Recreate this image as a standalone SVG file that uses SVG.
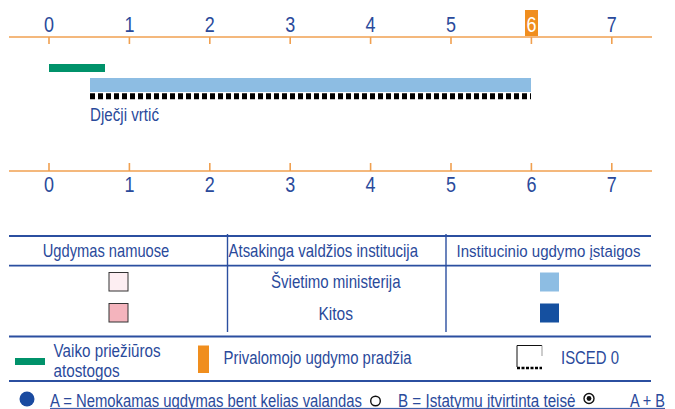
<svg xmlns="http://www.w3.org/2000/svg" width="675" height="409" viewBox="0 0 675 409">
<style>
  text { font-family: "Liberation Sans Narrow", "Liberation Sans", Arial, sans-serif; fill: #2A4A9B; }
  .dig { font-size: 22.5px; text-anchor: middle; }
  .lbl { font-size: 18.5px; }
  .sm { font-size: 17.5px; }
  .ax { stroke: #F0A050; stroke-width: 1.6; fill: none; }
  .tl { stroke: #2B4FA0; stroke-width: 1.8; fill: none; }
  .dv { stroke: #2B4FA0; stroke-width: 1.4; fill: none; }
</style>
<rect width="675" height="409" fill="#FFFFFF"/>

<g id="axis-top">
  <line class="ax" x1="9" y1="37" x2="652" y2="37"/>
  <path class="ax" d="M49 37V44M129.4 37V44M209.8 37V44M290.2 37V44M370.6 37V44M451 37V44M531.4 37V44M611.8 37V44"/>
  <rect x="525" y="10" width="13" height="26" fill="#F08E1E"/>
  <text class="dig" x="49" y="31.5" textLength="10" lengthAdjust="spacingAndGlyphs">0</text>
  <text class="dig" x="129.4" y="31.5" textLength="10" lengthAdjust="spacingAndGlyphs">1</text>
  <text class="dig" x="209.8" y="31.5" textLength="10" lengthAdjust="spacingAndGlyphs">2</text>
  <text class="dig" x="290.2" y="31.5" textLength="10" lengthAdjust="spacingAndGlyphs">3</text>
  <text class="dig" x="370.6" y="31.5" textLength="10" lengthAdjust="spacingAndGlyphs">4</text>
  <text class="dig" x="451" y="31.5" textLength="10" lengthAdjust="spacingAndGlyphs">5</text>
  <text class="dig" x="531.4" y="31.5" textLength="10" lengthAdjust="spacingAndGlyphs" style="fill:#FFFFFF">6</text>
  <text class="dig" x="611.8" y="31.5" textLength="10" lengthAdjust="spacingAndGlyphs">7</text>
</g>

<g id="bars">
  <rect x="49" y="64" width="56" height="8" fill="#00926A"/>
  <rect x="90" y="78" width="441" height="14" fill="#8DBDE3"/>
  <line x1="90" y1="96.3" x2="531" y2="96.3" stroke="#000000" stroke-width="6" stroke-dasharray="5 3"/>
  <text class="sm" x="90" y="121" textLength="69" lengthAdjust="spacingAndGlyphs">Dječji vrtić</text>
</g>

<g id="axis-bottom">
  <line class="ax" x1="9" y1="171" x2="652" y2="171"/>
  <path class="ax" d="M49 171V163M129.4 171V163M209.8 171V163M290.2 171V163M370.6 171V163M451 171V163M531.4 171V163M611.8 171V163"/>
  <text class="dig" x="49" y="192.3" textLength="10" lengthAdjust="spacingAndGlyphs">0</text>
  <text class="dig" x="129.4" y="192.3" textLength="10" lengthAdjust="spacingAndGlyphs">1</text>
  <text class="dig" x="209.8" y="192.3" textLength="10" lengthAdjust="spacingAndGlyphs">2</text>
  <text class="dig" x="290.2" y="192.3" textLength="10" lengthAdjust="spacingAndGlyphs">3</text>
  <text class="dig" x="370.6" y="192.3" textLength="10" lengthAdjust="spacingAndGlyphs">4</text>
  <text class="dig" x="451" y="192.3" textLength="10" lengthAdjust="spacingAndGlyphs">5</text>
  <text class="dig" x="531.4" y="192.3" textLength="10" lengthAdjust="spacingAndGlyphs">6</text>
  <text class="dig" x="611.8" y="192.3" textLength="10" lengthAdjust="spacingAndGlyphs">7</text>
</g>

<g id="table">
  <line class="tl" x1="9" y1="236" x2="651" y2="236"/>
  <line class="tl" x1="9" y1="265.7" x2="651" y2="265.7"/>
  <line class="tl" x1="9" y1="336.5" x2="651" y2="336.5"/>
  <line class="dv" x1="227.5" y1="234" x2="227.5" y2="332"/>
  <line class="dv" x1="446" y1="234" x2="446" y2="332"/>
  <text class="lbl" x="42.7" y="257.3" textLength="126.6" lengthAdjust="spacingAndGlyphs">Ugdymas namuose</text>
  <text class="lbl" x="228.5" y="257.3" textLength="189.5" lengthAdjust="spacingAndGlyphs">Atsakinga valdžios institucija</text>
  <text class="lbl" x="456.5" y="257.3" textLength="184" lengthAdjust="spacingAndGlyphs" style="font-size:17.2px">Institucinio ugdymo įstaigos</text>
  <rect x="109" y="272.5" width="19" height="18.5" fill="#FDEEF2" stroke="#333333" stroke-width="1"/>
  <rect x="109" y="303.5" width="19" height="18.5" fill="#F4B4BD" stroke="#333333" stroke-width="1"/>
  <text class="lbl" x="271" y="288" textLength="129.5" lengthAdjust="spacingAndGlyphs">Švietimo ministerija</text>
  <text class="lbl" x="318.5" y="320" textLength="34.5" lengthAdjust="spacingAndGlyphs">Kitos</text>
  <rect x="540" y="272.5" width="19" height="19" fill="#8DBDE3"/>
  <rect x="540" y="303.5" width="19" height="19" fill="#1550A0"/>
</g>

<g id="legend">
  <rect x="15" y="358" width="30" height="7" fill="#00926A"/>
  <text class="sm" x="53.6" y="357" textLength="107" lengthAdjust="spacingAndGlyphs">Vaiko priežiūros</text>
  <text class="sm" x="53.6" y="377" textLength="66" lengthAdjust="spacingAndGlyphs">atostogos</text>
  <rect x="198" y="345.5" width="11" height="27.5" fill="#F08E1E"/>
  <text class="sm" x="223.5" y="363.5" textLength="188" lengthAdjust="spacingAndGlyphs">Privalomojo ugdymo pradžia</text>
  <path d="M517 367V345.5H542" fill="none" stroke="#111111" stroke-width="1"/>
  <line x1="542" y1="345.5" x2="542" y2="356" stroke="#999999" stroke-width="1"/>
  <line x1="517" y1="368" x2="542" y2="368" stroke="#000000" stroke-width="2.6" stroke-dasharray="3 1.5"/>
  <text class="sm" x="561" y="363.5" textLength="58" lengthAdjust="spacingAndGlyphs">ISCED 0</text>
  <line class="tl" x1="9" y1="381" x2="651" y2="381"/>
  <circle cx="27" cy="399" r="7.5" fill="#1A4AA0"/>
  <text class="sm" x="50" y="406.5" textLength="312" lengthAdjust="spacingAndGlyphs">A = Nemokamas ugdymas bent kelias valandas</text>
  <circle cx="375.5" cy="401" r="4.8" fill="none" stroke="#111111" stroke-width="1.4"/>
  <text class="sm" x="398" y="406.5" textLength="177.5" lengthAdjust="spacingAndGlyphs">B = Įstatymu įtvirtinta teisė</text>
  <circle cx="589" cy="398.5" r="5" fill="none" stroke="#111111" stroke-width="1.4"/>
  <circle cx="589" cy="398.5" r="2.4" fill="#111111"/>
  <text class="sm" x="630" y="406.5" textLength="35" lengthAdjust="spacingAndGlyphs">A + B</text>
  <line x1="50" y1="408.4" x2="665" y2="408.4" stroke="#2B4FA0" stroke-width="1"/>
</g>
</svg>
